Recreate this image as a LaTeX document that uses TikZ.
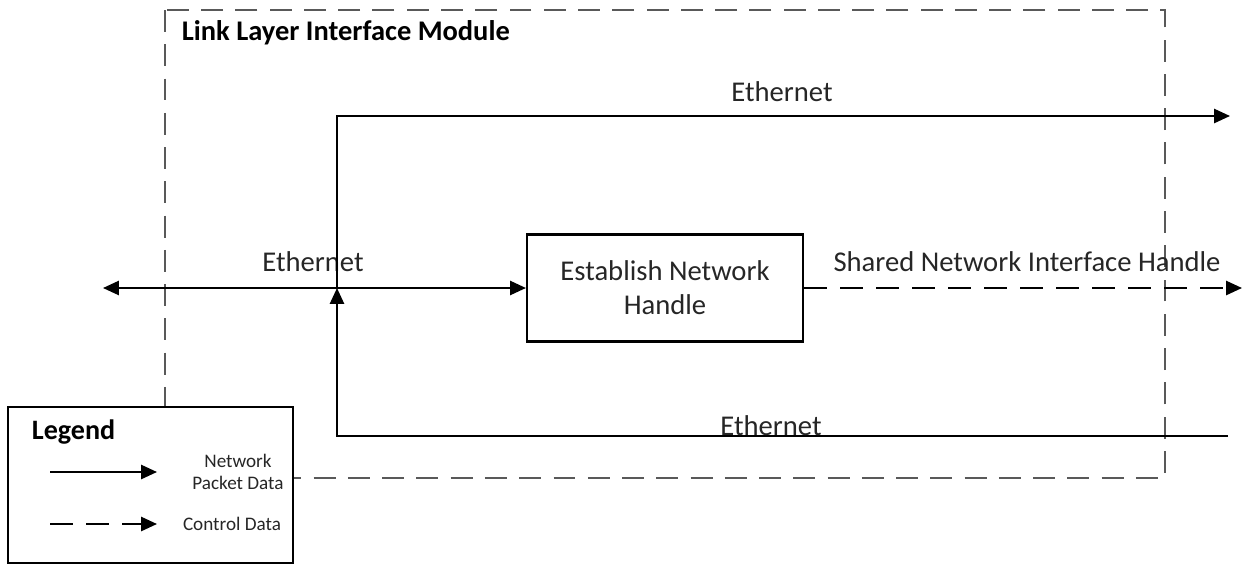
\documentclass[tikz,border=0pt]{standalone}
\usepackage{fontspec}
\setmainfont{Carlito}
\usepackage{tikz}
\usetikzlibrary{arrows.meta,calc,positioning}

\begin{document}
\begin{tikzpicture}[x=0.02cm,y=-0.02cm,
  line width=1.2pt,
  tip/.style={-{Triangle[length=9pt,width=8pt]}},
  modbox/.style={draw=black!65,dash pattern=on 12.5pt off 7pt},
  ctrl/.style={dash pattern=on 13pt off 7.5pt},
  lbl/.style={font=\fontsize{16.3}{19.5}\selectfont,text=black!85},
  small/.style={font=\fontsize{10.9}{12.5}\selectfont,text=black!85,align=center}]
\useasboundingbox (0,0) rectangle (1255,565);
% module frame
\draw[modbox] (165,10) rectangle (1165,478);
\node[anchor=west,font=\fontsize{16.2}{19}\bfseries] (title) at (175,33) {Link Layer Interface Module};
% process box
\node[draw,lbl,minimum width=276*0.02cm,minimum height=107*0.02cm,align=center] (handle) at (665,288) {Establish Network\\Handle};
\coordinate (ext) at (103,288);
\coordinate (J) at (337,288);
\coordinate (topout) at (1230,116);
\coordinate (botin) at (1228,436);
\coordinate (ctrlout) at (1242,288);
% data flows
\draw[{Triangle[length=9pt,width=8pt]}-{Triangle[length=9pt,width=8pt]}] (ext) -- (handle.west);
\node[lbl] (eth1) at (313,262) {Ethernet};
\draw[tip] (J) |- (topout);
\node[lbl] (eth2) at (782,92) {Ethernet};
\draw[tip] (botin) -| (J);
\node[lbl] (eth3) at (771,426) {Ethernet};
\draw[tip,ctrl] (handle.east) -- (ctrlout);
\node[lbl] (shared) at (1027,262) {Shared Network Interface Handle};
% legend
\draw[fill=white] (8,407) rectangle (293,563);
\node[anchor=west,font=\fontsize{16}{19}\bfseries] (legend) at (25,432) {Legend};
\coordinate (l1a) at (50,472);
\coordinate (l1b) at (157,472);
\coordinate (l2a) at (50,524);
\coordinate (l2b) at (157,524);
\draw[tip] (l1a) -- (l1b);
\node[small] (netdata) at (238,472) {Network\\Packet Data};
\draw[tip,ctrl] (l2a) -- (l2b);
\node[small] (ctrldata) at (232,524) {Control Data};
\end{tikzpicture}
\end{document}
